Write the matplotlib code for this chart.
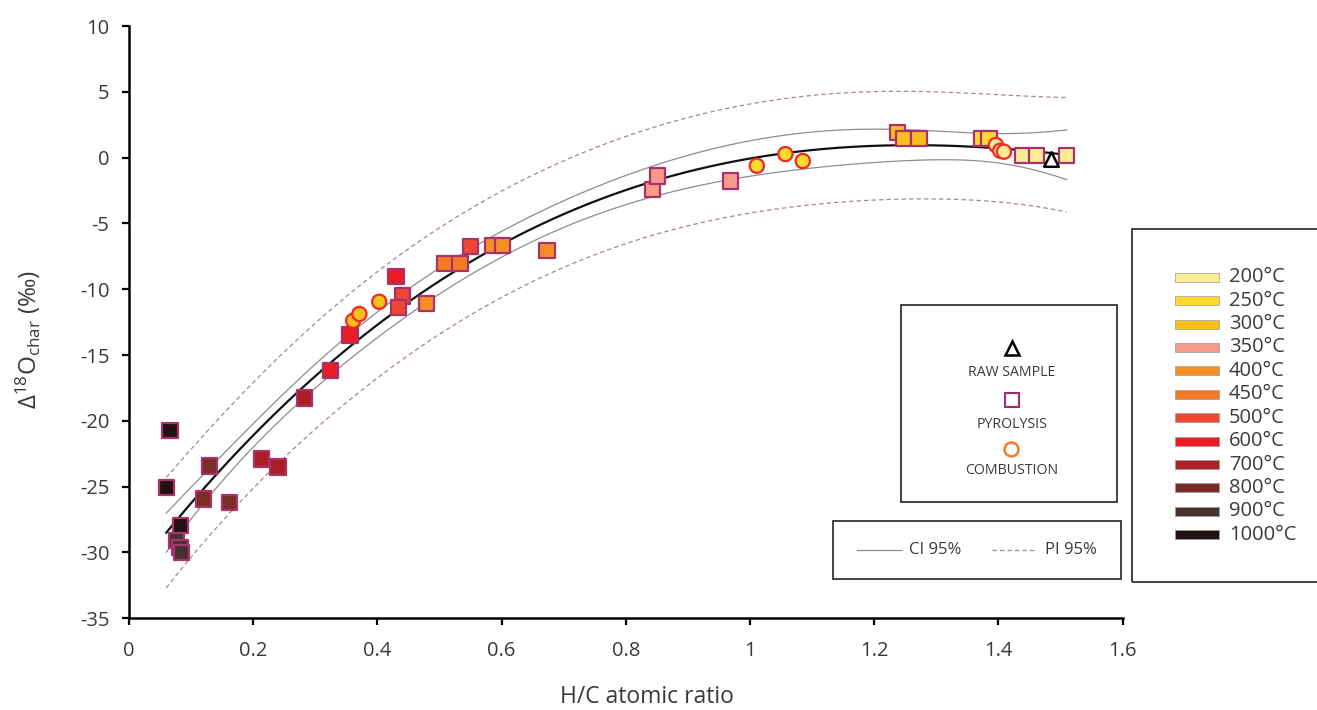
import numpy as np
import matplotlib.pyplot as plt
from matplotlib.lines import Line2D
from matplotlib.patches import Rectangle
from matplotlib.ticker import FuncFormatter

plt.rcParams['font.family'] = ['Open Sans', 'DejaVu Sans']
plt.rcParams['axes.unicode_minus'] = False
plt.rcParams['mathtext.fontset'] = 'custom'
plt.rcParams['mathtext.rm'] = 'Open Sans'
plt.rcParams['mathtext.it'] = 'Open Sans'

temps = [200, 250, 300, 350, 400, 450, 500, 600, 700, 800, 900, 1000]
temp_colors = ['#FDEB94', '#FFD92E', '#F8BE1B', '#F69A8A', '#F68E28', '#F47B26',
               '#EE4733', '#ED1C24', '#AC1F24', '#7A2D25', '#45322E', '#231010']

# pyrolysis chars
pyro_hc = [0.066, 0.060, 0.083, 0.076, 0.082, 0.085, 0.129, 0.120, 0.162,
           0.213, 0.240, 0.283, 0.325, 0.356, 0.430, 0.441, 0.434, 0.479,
           0.509, 0.533, 0.550, 0.586, 0.602, 0.673, 0.843, 0.851, 0.969,
           1.238, 1.247, 1.272, 1.373, 1.385, 1.439, 1.461, 1.510]
pyro_d18o = [-20.75, -25.08, -27.97, -29.11, -29.64, -30.02, -23.43, -25.94, -26.19,
             -22.9, -23.5, -18.27, -16.2, -13.48, -9.05, -10.52, -11.38, -11.07,
             -8.03, -8.03, -6.77, -6.68, -6.68, -7.07, -2.41, -1.40, -1.78,
             1.89, 1.47, 1.47, 1.47, 1.47, 0.14, 0.14, 0.14]
pyro_temp = [1000, 1000, 1000, 900, 900, 900, 800, 800, 800,
             700, 700, 700, 600, 600, 600, 500, 500, 400,
             450, 450, 500, 400, 400, 400, 350, 350, 350,
             300, 300, 300, 250, 250, 200, 200, 200]

# combustion chars
comb_hc = [0.361, 0.371, 0.403, 1.011, 1.057, 1.085, 1.396, 1.403, 1.409]
comb_d18o = [-12.39, -11.88, -10.95, -0.62, 0.27, -0.26, 0.96, 0.52, 0.45]
comb_temp = [300, 300, 300, 250, 250, 250, 200, 200, 200]

# raw sample
raw_hc = [1.484]
raw_d18o = [-0.1]

col = dict(zip(temps, temp_colors))

# cubic fit with 95% confidence / prediction bands
deg = 3
x_all = np.array(pyro_hc + comb_hc + raw_hc)
y_all = np.array(pyro_d18o + comb_d18o + raw_d18o)
coef = np.polyfit(x_all, y_all, deg)
X = np.vander(x_all, deg + 1)
n = len(x_all)
resid = y_all - X @ coef
s = np.sqrt(resid @ resid / (n - deg - 1))
xtx_inv = np.linalg.inv(X.T @ X)
xx = np.linspace(x_all.min(), x_all.max(), 300)
Xg = np.vander(xx, deg + 1)
fit = Xg @ coef
lev = np.einsum('ij,jk,ik->i', Xg, xtx_inv, Xg)
t = 2.02
ci = t * s * np.sqrt(lev)
pi = t * s * np.sqrt(1 + lev)

W, H = 1317, 710
fig = plt.figure(figsize=(W / 100, H / 100), dpi=100)
ax = fig.add_axes([129 / W, 1 - 618.3 / H, 993.6 / W, 592.3 / H])

ax.plot(xx, fit + pi, color='#A8877F', lw=0.9, ls=(0, (3.5, 2.5)), zorder=1)
ax.plot(xx, fit - pi, color='#A8877F', lw=0.9, ls=(0, (3.5, 2.5)), zorder=1)
ax.plot(xx, fit + ci, color='#8E8A99', lw=0.9, zorder=1)
ax.plot(xx, fit - ci, color='#8E8A99', lw=0.9, zorder=1)
ax.plot(xx, fit, color='#111111', lw=1.6, zorder=2)

ax.scatter(pyro_hc, pyro_d18o, marker='s', s=120, c=[col[k] for k in pyro_temp],
           edgecolors='#A8336C', linewidths=1.6, zorder=3)
ax.scatter(comb_hc, comb_d18o, marker='o', s=105, c=[col[k] for k in comb_temp],
           edgecolors='#EE2A24', linewidths=1.6, zorder=3)
ax.scatter(raw_hc, raw_d18o, marker='^', s=110, facecolors='white',
           edgecolors='black', linewidths=1.8, zorder=4)

ax.set_xlim(0, 1.6)
ax.set_ylim(-35, 10)
ax.set_xticks(np.arange(0, 1.61, 0.2))
ax.set_yticks(np.arange(-35, 11, 5))
ax.xaxis.set_major_formatter(FuncFormatter(lambda v, p: '%g' % round(v, 1)))
ax.spines['top'].set_visible(False)
ax.spines['right'].set_visible(False)
for sp in ('left', 'bottom'):
    ax.spines[sp].set_linewidth(1.8)
ax.tick_params(direction='out', length=5, width=1.6, labelsize=14.5,
               labelcolor='#3a3a3a')
ax.tick_params(axis='x', pad=11)
ax.tick_params(axis='y', pad=9)
ax.set_xlabel('H/C atomic ratio', fontsize=16.5, color='#3a3a3a', va='top')
ax.xaxis.set_label_coords(0.521, -0.113)
ax.set_ylabel(r'$\Delta^{18}$O$_{\mathrm{char}}$ (‰)', fontsize=17.5, color='#3a3a3a')
ax.yaxis.set_label_coords(-0.087, 0.47)


def fx(x):
    return x / W


def fy(y):
    return 1 - y / H


def box(x0, y0, x1, y1):
    fig.add_artist(Rectangle((fx(x0), fy(y1)), fx(x1) - fx(x0), fy(y0) - fy(y1),
                             transform=fig.transFigure, fill=False,
                             ec='#222222', lw=1.2))


# temperature legend
box(1132, 229, 1330, 582)
for i, (tc, cc) in enumerate(zip(temps, temp_colors)):
    yc = 277.3 + i * 23.4
    fig.add_artist(Rectangle((fx(1175), fy(yc + 4.5)), fx(44), 9 / H,
                             transform=fig.transFigure, fc=cc, ec='#9a9a9a', lw=0.5))
    fig.text(fx(1229), fy(yc), '%d°C' % tc, fontsize=14.5, color='#3a3a3a',
             va='center', ha='left')

# sample-type legend
box(901, 305, 1117, 502)
fig.add_artist(Line2D([fx(1011.5)], [fy(348)], marker='^', ms=10, mfc='white',
                      mec='black', mew=1.8, transform=fig.transFigure))
fig.text(fx(1012), fy(373), 'RAW SAMPLE', fontsize=10.2, color='#3a3a3a',
         ha='center', va='center')
fig.add_artist(Line2D([fx(1012)], [fy(400)], marker='s', ms=10, mfc='white',
                      mec='#9B2A66', mew=1.5, transform=fig.transFigure))
fig.text(fx(1012), fy(424), 'PYROLYSIS', fontsize=10.2, color='#3a3a3a',
         ha='center', va='center')
fig.add_artist(Line2D([fx(1011)], [fy(449)], marker='o', ms=10, mfc='white',
                      mec='#F47B26', mew=1.8, transform=fig.transFigure))
fig.text(fx(1012), fy(471), 'COMBUSTION', fontsize=10.2, color='#3a3a3a',
         ha='center', va='center')

# band legend
box(833, 521, 1121, 579)
fig.add_artist(Line2D([fx(857), fx(901)], [fy(550), fy(550)], color='#8E8A99',
                      lw=0.9, transform=fig.transFigure))
fig.text(fx(909), fy(550), 'CI 95%', fontsize=12, color='#3a3a3a', va='center')
fig.add_artist(Line2D([fx(992), fx(1035)], [fy(550), fy(550)], color='#A8877F',
                      lw=0.9, ls=(0, (3.5, 2.5)), transform=fig.transFigure))
fig.text(fx(1045), fy(550), 'PI 95%', fontsize=12, color='#3a3a3a', va='center')

fig.savefig('out.png', dpi=100)
